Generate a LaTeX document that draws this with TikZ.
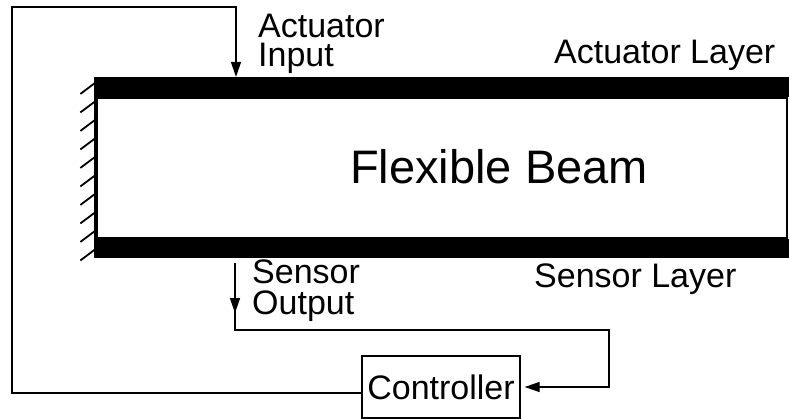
\documentclass[tikz,border=0pt]{standalone}
\usepackage{fontspec}
\setmainfont{Liberation Sans}
\usetikzlibrary{arrows.meta,decorations.markings}

\begin{document}
\begin{tikzpicture}[x=1pt,y=-1pt,
    wire/.style={line width=1.3pt},
    tip/.style={-{Triangle[width=10pt,length=15pt]}},
    midtip/.style={postaction={decorate},
      decoration={markings, mark=at position #1 with {\arrow{Triangle[width=10pt,length=15pt]}}}},
    lbl/.style={font=\fontsize{34}{29}\selectfont, inner sep=0pt, align=left, anchor=base west},
    layer/.style={fill=black, draw=none, inner sep=0pt, minimum width=692pt}]
    \useasboundingbox (0,0) rectangle (789,419);
    % beam with its two layers
    \node (beam) [draw, wire, inner sep=0pt, minimum width=690pt, minimum height=140pt] at (442,168) {};
    \node (act) [layer, minimum height=20pt, anchor=south west] at (beam.north west) {};
    \node (sen) [layer, minimum height=19pt, anchor=north west] at (beam.south west) {};
    \node (title) [font=\fontsize{47}{50}\selectfont, inner sep=0pt, anchor=base west] at (350,184) {Flexible Beam};
    % clamped wall
    \draw[line width=4pt] (act.north west) -- (sen.south west);
    \foreach \k in {0,...,9}
        \draw[line width=1.8pt] ([shift={(0,{5+18.5*\k})}]act.north west) -- ++(-16,12);
    % labels
    \node (ain) [lbl] at (258,67) {Actuator\\Input};
    \node (alay) [lbl] at (554,64) {Actuator Layer};
    \node (sout) [lbl, font=\fontsize{34}{32}\selectfont] at (252,315) {Sensor\\Output};
    \node (slay) [lbl] at (534,288) {Sensor Layer};
    % controller and loop
    \node (ctrl) [draw, wire, inner sep=0pt, minimum width=158pt, minimum height=62pt,
        font=\fontsize{34}{36}\selectfont] at (441,387) {Controller};
    \coordinate (fb) at (12,7);
    \coordinate (in) at (236,7);
    \coordinate (out) at (235,330);
    \coordinate (ret) at (609,330);
    \draw[wire, tip] ([yshift=-6pt]ctrl.west) -| (fb) -- (in) -- (in |- act.north);
    \draw[wire, tip, shorten >=4pt, midtip=50pt] ([yshift=-5pt]sen.south -| out) -- (out) -- (ret) |- (ctrl.east);
\end{tikzpicture}
\end{document}
